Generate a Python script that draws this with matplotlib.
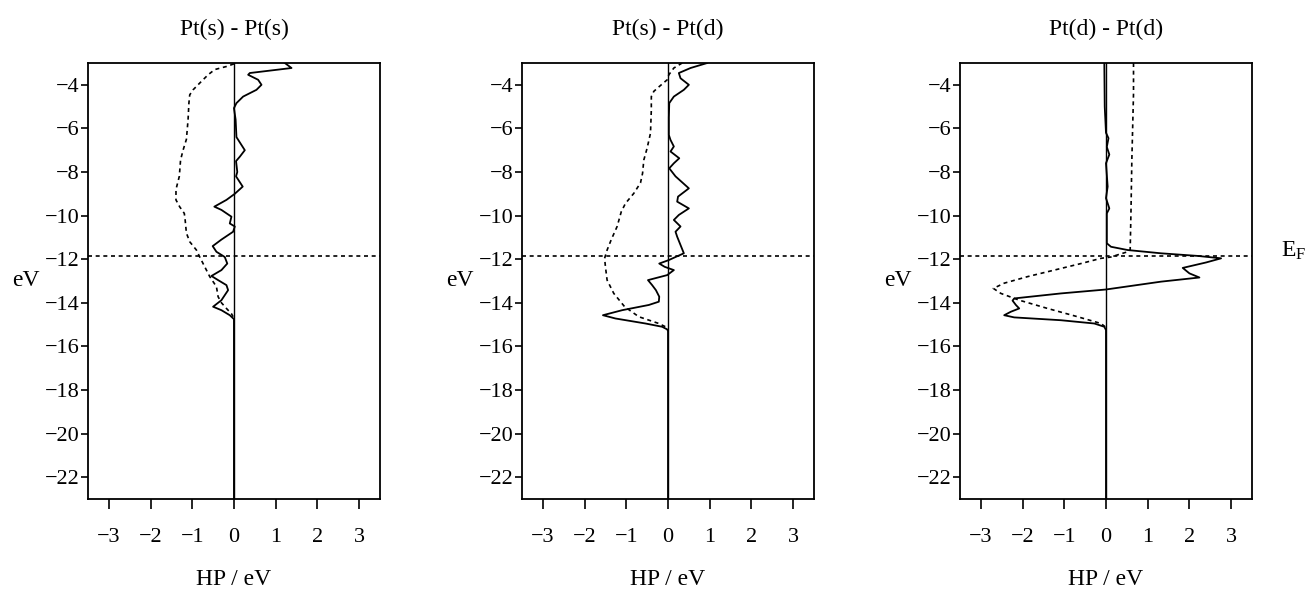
import matplotlib
matplotlib.use('Agg')
import matplotlib.pyplot as plt
from matplotlib.ticker import MultipleLocator

# Plot settings

FIG_W = 13.07
FIG_H = 5.91

E_FERMI = -11.87  # Fermi level [eV]

X_MIN, X_MAX = -3.5, 3.5
Y_MIN, Y_MAX = -23, -3

TITLES = ['Pt(s) - Pt(s)', 'Pt(s) - Pt(d)', 'Pt(d) - Pt(d)']

# Panel 1: Pt(s) - Pt(s)
P1_SOLID_X = [1.22, 1.38, 0.38, 0.34, 0.58, 0.66, 0.54, 0.22, 0.06, 0.0, 0.04, 0.05, 0.06,
              0.26, 0.14, 0.05, 0.08, 0.05, 0.21, 0.02, -0.18, -0.47, -0.30, -0.06, -0.10,
              0.02, -0.02, -0.30, -0.51, -0.42, -0.22, -0.16, -0.30, -0.54, -0.38, -0.18,
              -0.14, -0.22, -0.30, -0.50, -0.30, -0.10, 0.0, 0.0]
P1_SOLID_Y = [-3.0, -3.23, -3.46, -3.54, -3.77, -4.0, -4.23, -4.54, -4.84, -5.07, -5.6, -6.0, -6.4,
              -7.0, -7.3, -7.5, -8.0, -8.2, -8.67, -9.0, -9.28, -9.59, -9.74, -10.05, -10.36,
              -10.5, -10.74, -11.1, -11.4, -11.66, -11.9, -12.2, -12.5, -12.77, -12.96, -13.19,
              -13.42, -13.65, -13.88, -14.18, -14.34, -14.57, -14.75, -23.0]

P1_DASH_X = [0.0, -0.18, -0.46, -0.62, -0.82, -0.98, -1.06, -1.08, -1.10, -1.14, -1.22, -1.28,
             -1.31, -1.39, -1.39, -1.30, -1.19, -1.17, -1.14, -1.06, -0.90, -0.82, -0.70, -0.58,
             -0.42, -0.38, -0.30, -0.18, -0.06, -0.02]
P1_DASH_Y = [-3.04, -3.16, -3.3, -3.54, -3.92, -4.23, -4.46, -4.84, -5.6, -6.5, -7.0, -7.45,
             -8.2, -8.8, -9.28, -9.6, -9.9, -10.2, -10.8, -11.2, -11.58, -11.9, -12.35, -12.8,
             -13.26, -13.72, -14.0, -14.26, -14.5, -14.64]

# Panel 2: Pt(s) - Pt(d)
P2_SOLID_X = [0.94, 0.54, 0.26, 0.30, 0.50, 0.38, 0.14, 0.03, 0.02, 0.02, 0.06, 0.14, 0.06,
              0.27, 0.14, 0.03, 0.18, 0.50, 0.24, 0.22, 0.50, 0.26, 0.14, 0.30, 0.18, 0.22,
              0.30, 0.38, 0.18, 0.02, -0.21, -0.08, 0.14, -0.02, -0.48, -0.38, -0.29, -0.21,
              -0.22, -0.46, -1.10, -1.56, -1.26, -0.54, -0.14, -0.02, 0.0, 0.0]
P2_SOLID_Y = [-3.0, -3.23, -3.46, -3.7, -4.0, -4.23, -4.54, -4.84, -5.5, -6.3, -6.53, -6.83, -7.06,
              -7.37, -7.6, -7.83, -8.2, -8.75, -9.13, -9.36, -9.67, -9.97, -10.2, -10.5, -10.74,
              -10.97, -11.35, -11.73, -11.9, -12.04, -12.2, -12.35, -12.5, -12.73, -12.96, -13.19,
              -13.42, -13.72, -13.95, -14.1, -14.34, -14.57, -14.72, -14.95, -15.1, -15.22,
              -15.3, -23.0]

P2_DASH_X = [0.34, 0.14, 0.02, -0.02, -0.21, -0.34, -0.40, -0.40, -0.42, -0.50, -0.58, -0.61,
             -0.66, -0.82, -1.02, -1.12, -1.22, -1.36, -1.46, -1.52, -1.50, -1.46, -1.30, -1.04,
             -0.70, -0.22, -0.06]
P2_DASH_Y = [-3.0, -3.23, -3.54, -3.77, -4.08, -4.3, -4.54, -5.15, -6.22, -6.9, -7.45, -8.06,
             -8.5, -8.98, -9.44, -9.82, -10.5, -11.1, -11.58, -11.96, -12.35, -12.96, -13.57,
             -14.18, -14.64, -14.95, -15.1]

# Panel 3: Pt(d) - Pt(d)
P3_SOLID_X = [-0.04, -0.03, 0.0, 0.06, 0.02, 0.08, 0.0, 0.04, 0.0, 0.08, 0.02, 0.02, 0.12, 0.52,
              1.32, 2.20, 2.76, 2.40, 1.84, 2.00, 2.24, 1.32, 0.0, -1.08, -2.20, -2.24, -2.16,
              -2.08, -2.28, -2.44, -2.20, -1.08, -0.28, -0.04, 0.0, 0.0]
P3_SOLID_Y = [-3.0, -5.0, -6.2, -6.45, -6.85, -7.2, -7.6, -8.67, -9.2, -9.67, -9.9, -11.27, -11.43,
              -11.58, -11.73, -11.85, -11.96, -12.15, -12.4, -12.65, -12.84, -13.03, -13.39,
              -13.57, -13.8, -13.9, -14.1, -14.26, -14.41, -14.57, -14.67, -14.8, -14.95, -15.1,
              -15.25, -23.0]

P3_DASH_X = [0.66, 0.66, 0.62, 0.60, 0.58, 0.52, 0.28, 0.12, -0.12, -0.60, -1.24, -1.88, -2.44,
             -2.70, -2.52, -2.08, -1.40, -0.68, -0.12, -0.02]
P3_DASH_Y = [-3.0, -4.4, -7.45, -9.74, -11.58, -11.66, -11.8, -11.9, -11.96, -12.2, -12.5, -12.8,
             -13.1, -13.34, -13.57, -13.88, -14.26, -14.64, -14.95, -15.1]

PANELS = [
    (P1_SOLID_X, P1_SOLID_Y, P1_DASH_X, P1_DASH_Y),
    (P2_SOLID_X, P2_SOLID_Y, P2_DASH_X, P2_DASH_Y),
    (P3_SOLID_X, P3_SOLID_Y, P3_DASH_X, P3_DASH_Y),
]

AX_LEFTS = [0.0673, 0.3994, 0.7345]
AX_BOTTOM = 0.1557
AX_WIDTH = 0.2234
AX_HEIGHT = 0.7377


def plot_panel(fig, left, title, solid_x, solid_y, dash_x, dash_y):
    ax = fig.add_axes([left, AX_BOTTOM, AX_WIDTH, AX_HEIGHT])

    ax.axvline(0, color='black', linewidth=1.0)
    ax.axhline(E_FERMI, color='black', linewidth=1.2, linestyle=(0, (2.4, 2.2)))

    ax.plot(solid_x, solid_y, color='black', linewidth=1.3)
    ax.plot(dash_x, dash_y, color='black', linewidth=1.2, linestyle=(0, (2.4, 2.2)))

    ax.set_xlim(X_MIN, X_MAX)
    ax.set_ylim(Y_MIN, Y_MAX)
    ax.xaxis.set_major_locator(MultipleLocator(1))
    ax.set_yticks([-4, -6, -8, -10, -12, -14, -16, -18, -20, -22])

    ax.tick_params(axis='x', direction='out', length=7, width=1.2, pad=14, labelsize=16)
    ax.tick_params(axis='y', direction='out', length=5, width=1.2, pad=1, labelsize=16)
    for side in ['left', 'bottom', 'top', 'right']:
        ax.spines[side].set_linewidth(1.3)

    ax.set_title(title, fontsize=17, pad=20)
    ax.set_xlabel('HP / eV', fontsize=17, labelpad=16)
    ax.set_ylabel('eV', fontsize=17, rotation=0, labelpad=4, va='center', ha='right')
    return ax


def main():
    plt.rcParams['font.family'] = ['Liberation Serif', 'DejaVu Serif']
    plt.rcParams['mathtext.fontset'] = 'custom'
    plt.rcParams['mathtext.rm'] = 'Liberation Serif'
    plt.rcParams['mathtext.it'] = 'Liberation Serif'

    fig = plt.figure(figsize=(FIG_W, FIG_H), dpi=100)

    axes = []
    for left, title, data in zip(AX_LEFTS, TITLES, PANELS):
        axes.append(plot_panel(fig, left, title, *data))

    # Fermi level label right of last panel
    axes[-1].text(1.098, E_FERMI, r'E$_{\mathrm{F}}$', fontsize=17, va='baseline', ha='left',
                  transform=axes[-1].get_yaxis_transform())

    fig.savefig('out.png', dpi=100)


if __name__ == '__main__':
    main()
